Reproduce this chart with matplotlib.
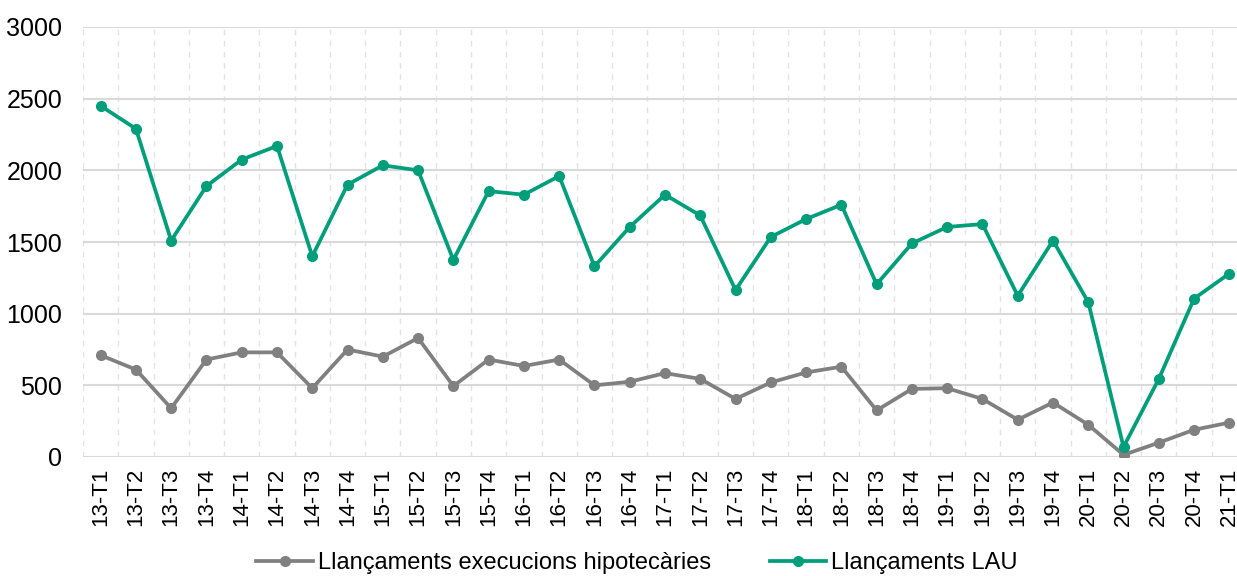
import matplotlib.pyplot as plt
import numpy as np

plt.rcParams['font.family'] = ['Liberation Sans', 'DejaVu Sans']

quarters = ['13-T1', '13-T2', '13-T3', '13-T4', '14-T1', '14-T2', '14-T3', '14-T4',
            '15-T1', '15-T2', '15-T3', '15-T4', '16-T1', '16-T2', '16-T3', '16-T4',
            '17-T1', '17-T2', '17-T3', '17-T4', '18-T1', '18-T2', '18-T3', '18-T4',
            '19-T1', '19-T2', '19-T3', '19-T4', '20-T1', '20-T2', '20-T3', '20-T4',
            '21-T1']

# Llançaments execucions hipotecàries
execucions = [710, 610, 340, 680, 730, 730, 480, 750,
              700, 830, 495, 680, 635, 680, 500, 525,
              585, 545, 405, 520, 590, 630, 325, 475,
              480, 405, 260, 380, 225, 15, 100, 190,
              240]

# Llançaments LAU
lau = [2450, 2290, 1510, 1890, 2075, 2170, 1400, 1900,
       2035, 2000, 1375, 1855, 1830, 1960, 1330, 1605,
       1830, 1685, 1165, 1535, 1660, 1760, 1205, 1490,
       1605, 1625, 1125, 1510, 1080, 70, 545, 1105,
       1280]

grey = '#808080'
green = '#009E7B'

fig = plt.figure(figsize=(12.37, 5.76), dpi=100)
ax = fig.add_axes([83 / 1237, 1 - 457 / 576, 1164 / 1237, 430 / 576])

x = np.arange(len(quarters))
ax.plot(x, execucions, color=grey, lw=2.7, marker='o', ms=7,
        label='Llançaments execucions hipotecàries', zorder=3)
ax.plot(x, lau, color=green, lw=2.7, marker='o', ms=7,
        label='Llançaments LAU', zorder=4)

ax.set_xlim(-0.5, len(quarters) - 0.5)
ax.set_ylim(0, 3000)
ax.set_yticks(range(0, 3001, 500))
ax.set_xticks(x)
ax.set_xticklabels(quarters, rotation=90, fontsize=16)
ax.tick_params(axis='y', labelsize=18, length=0, pad=15)
ax.tick_params(axis='x', length=0, pad=8)

# grid: solid horizontal, dashed vertical between categories
ax.set_xticks(np.arange(-0.5, len(quarters), 1), minor=True)
ax.tick_params(axis='x', which='minor', length=0)
ax.grid(axis='y', color='#d9d9d9', lw=1.5, zorder=0)
ax.grid(axis='x', which='minor', color='#e3e3e3', lw=1, ls=(0, (4, 4)), zorder=0)
ax.set_axisbelow(True)

for s in ax.spines.values():
    s.set_visible(False)

fig.legend(loc='center', bbox_to_anchor=(637 / 1237, 1 - 563 / 576), ncol=2,
           frameon=False, fontsize=17, handlelength=2.4, handletextpad=0.2,
           columnspacing=2.5)

fig.savefig('out.png', dpi=100)
